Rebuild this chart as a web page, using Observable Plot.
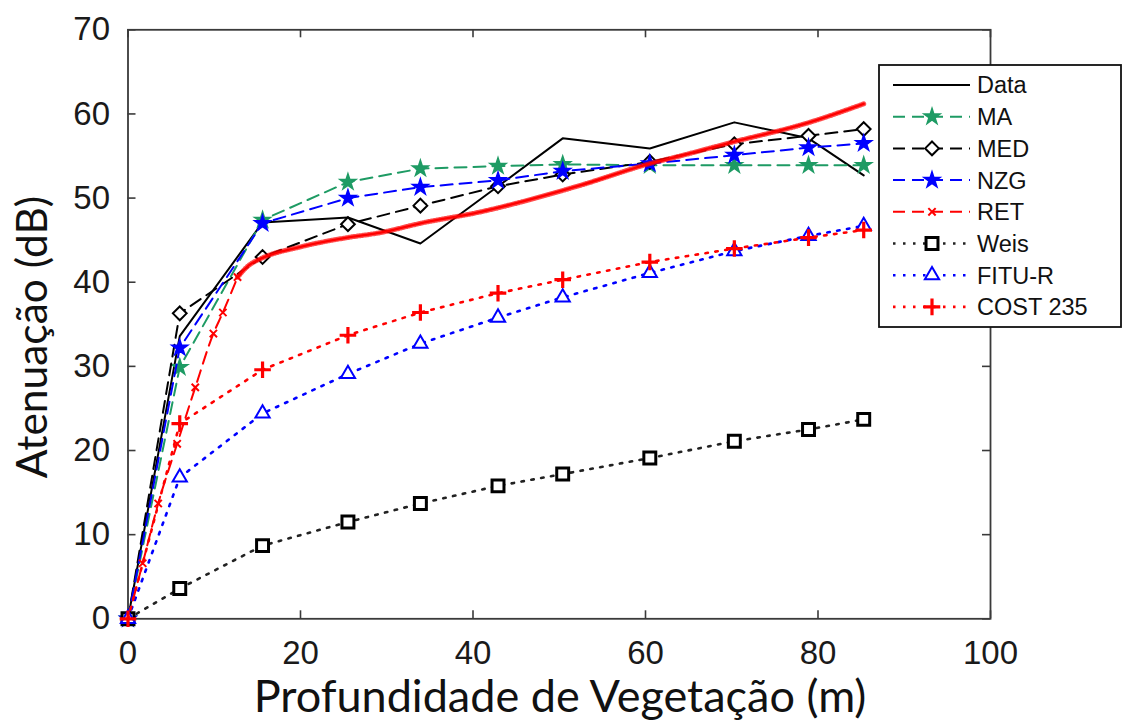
<!DOCTYPE html>
<html>
<head>
<meta charset="utf-8">
<script src="https://cdn.jsdelivr.net/npm/d3@7"></script>
<script src="https://cdn.jsdelivr.net/npm/@observablehq/plot@0.6"></script>
<style>
  body { margin: 0; background: #fff; }
  #wrap { position: relative; width: 1123px; height: 728px; overflow: hidden; background: #fff; }
  #chart { position: absolute; left: 0; top: 0; }
  #titles { position: absolute; left: 0; top: 0; pointer-events: none; }
  #legend { position: absolute; left: 878px; top: 64px; }
</style>
</head>
<body>
<div id="wrap"><div id="chart"></div></div>
<script>
// Vegetation depth (m) at which every model was evaluated
const depth = [0, 6, 15.6, 25.5, 33.9, 42.9, 50.4, 60.5, 70.3, 78.9, 85.3];

// Attenuation (dB) per series
const measured = [0, 33.6, 47.1, 47.7, 44.6, 51.4, 57.1, 55.9, 59.0, 57.1, 52.7];
const ma       = [0, 29.9, 47.4, 51.9, 53.5, 53.8, 54.0, 53.9, 53.9, 53.9, 53.9];
const med      = [0, 36.3, 43.0, 46.9, 49.1, 51.4, 52.8, 54.3, 56.4, 57.4, 58.2];
const nzg      = [0, 32.2, 47.0, 50.0, 51.3, 52.1, 53.2, 54.1, 55.1, 56.0, 56.5];
const weis     = [0, 3.6, 8.7, 11.5, 13.7, 15.8, 17.2, 19.1, 21.1, 22.5, 23.7];
const fitur    = [0, 16.8, 24.4, 29.1, 32.7, 35.8, 38.2, 41.1, 43.7, 45.5, 46.7];
const cost235  = [0, 23.2, 29.6, 33.7, 36.4, 38.7, 40.3, 42.4, 44.0, 45.3, 46.2];

// RET model is evaluated on its own finer depth grid
const retDepth = [0, 1.7, 3.5, 5.7, 7.8, 9.9, 11.0, 12.7, 14.0, 15.4, 20, 25.4, 29.3, 33.9, 40.6, 52.4, 60.5, 64.0, 69.9, 78.7, 85.3];
const ret      = [0, 6.6, 13.7, 20.8, 27.5, 33.9, 36.4, 40.6, 42.0, 42.8, 44.2, 45.3, 45.9, 47.0, 48.3, 51.5, 54.1, 55.0, 56.6, 58.9, 61.2];

// Axis ticks
const xTicks = [0, 20, 40, 60, 80, 100];
const yTicks = [0, 10, 20, 30, 40, 50, 60, 70];

const W = 1123, H = 728;
const M = {left: 127.5, right: 133, top: 29.3, bottom: 109.7};
const innerW = W - M.left - M.right;
const innerH = H - M.top - M.bottom;
const tickLen = 8;

const GREEN = "#1e9b64", BLUE = "#0000ff", RED = "#ff0000", BLACK = "#000";
const DASH = "12,7", DOT = "2.5,7.5";
const AXIS = "#3a3a3a";

const rows = (xs, ys) => xs.map((x, i) => ({x, y: ys[i]}));
const retRows = rows(retDepth, ret);
const retSteep = retRows.filter(d => d.x <= 13);
const retFlat = retRows.filter(d => d.x >= 12.7);

const series = [
  {name: "Data",     ys: measured, stroke: BLACK, dash: null, width: 2},
  {name: "MA",       ys: ma,       stroke: GREEN, dash: DASH, width: 2, symbol: "star", fill: GREEN, r: 5},
  {name: "MED",      ys: med,      stroke: BLACK, dash: DASH, width: 2, symbol: "diamond2", fill: "white", r: 6.2, sw: 2},
  {name: "NZG",      ys: nzg,      stroke: BLUE,  dash: DASH, width: 2, symbol: "star", fill: BLUE, r: 5},
  {name: "RET"},
  {name: "Weis",     ys: weis,     stroke: "#222", dash: DOT, width: 2.6, symbol: "square2", fill: "white", r: 7.6, sw: 3, mstroke: BLACK},
  {name: "FITU-R",   ys: fitur,    stroke: BLUE,  dash: DOT, width: 2.6, symbol: "triangle2", fill: "white", r: 6.8, sw: 2},
  {name: "COST 235", ys: cost235,  stroke: RED,   dash: DOT, width: 2.6, symbol: "plus", fill: "none", r: 5.4, sw: 3.2}
];

const marks = [
  Plot.frame({stroke: AXIS, strokeWidth: 1.8}),
  // inward ticks, bottom and top
  Plot.tickX(xTicks, {x: d => d, stroke: AXIS, strokeWidth: 1.6, insetTop: innerH - tickLen}),
  Plot.tickX(xTicks, {x: d => d, stroke: AXIS, strokeWidth: 1.6, insetBottom: innerH - tickLen}),
  // inward ticks, left and right
  Plot.tickY(yTicks, {y: d => d, stroke: AXIS, strokeWidth: 1.6, insetRight: innerW - tickLen}),
  Plot.tickY(yTicks, {y: d => d, stroke: AXIS, strokeWidth: 1.6, insetLeft: innerW - tickLen}),
  Plot.axisX({ticks: xTicks, tickSize: 0, tickPadding: 22, label: null, fontSize: 33, fill: "#1a1a1a"}),
  Plot.axisY({ticks: yTicks, tickSize: 0, tickPadding: 18, label: null, fontSize: 33, fill: "#1a1a1a"})
];

for (const s of series) {
  if (s.name === "RET") {
    marks.push(
      Plot.line(retSteep, {x: "x", y: "y", stroke: RED, strokeWidth: 2, strokeDasharray: DASH, curve: "monotone-x"}),
      Plot.dot(retSteep.slice(1), {x: "x", y: "y", symbol: "times", r: 3.4, stroke: RED, strokeWidth: 2}),
      Plot.line(retFlat, {x: "x", y: "y", stroke: RED, strokeWidth: 2.4, curve: "monotone-x"}),
      Plot.line(retFlat, {x: "x", y: "y", stroke: RED, strokeWidth: 5, strokeDasharray: "1,1.8", strokeOpacity: 0.7, curve: "monotone-x"})
    );
    continue;
  }
  const data = rows(depth, s.ys);
  marks.push(Plot.line(data, {x: "x", y: "y", stroke: s.stroke, strokeWidth: s.width, strokeDasharray: s.dash}));
  if (s.symbol) {
    const stroked = s.symbol !== "star";
    marks.push(Plot.dot(data, {
      x: "x", y: "y", symbol: s.symbol, r: s.r,
      fill: s.fill,
      stroke: stroked ? (s.mstroke || s.stroke) : s.fill,
      strokeWidth: stroked ? s.sw : 1.5
    }));
  }
}

const chart = Plot.plot({
  width: W, height: H,
  marginLeft: M.left, marginRight: M.right, marginTop: M.top, marginBottom: M.bottom,
  x: {domain: [0, 100]},
  y: {domain: [0, 70]},
  style: {fontFamily: "'Liberation Sans', Arial, sans-serif", background: "transparent", overflow: "visible"},
  marks
});
document.getElementById("chart").append(chart);

// Axis titles
const titles = d3.select("#wrap").append("svg").attr("id", "titles")
  .attr("width", W).attr("height", H);
titles.append("text")
  .attr("x", 560).attr("y", 712)
  .attr("text-anchor", "middle")
  .attr("font-family", "Lato, 'Open Sans', sans-serif").attr("font-size", 45)
  .attr("fill", "#111")
  .text("Profundidade de Vegetação (m)");
titles.append("text")
  .attr("transform", "translate(47,337) rotate(-90)")
  .attr("text-anchor", "middle")
  .attr("font-family", "Lato, 'Open Sans', sans-serif").attr("font-size", 42.5)
  .attr("fill", "#111")
  .text("Atenuação (dB)");

// Legend box
const LW = 242, LH = 262, rowGap = 31.7, row0 = 21;
const leg = d3.select("#wrap").append("svg")
  .attr("id", "legend").attr("width", LW + 4).attr("height", LH + 4);
leg.append("rect").attr("x", 1).attr("y", 1).attr("width", LW).attr("height", LH)
  .attr("fill", "white").attr("stroke", "#111").attr("stroke-width", 1.8);

const symbolOf = {
  star: d3.symbolStar, diamond2: d3.symbolDiamond2, square2: d3.symbolSquare2,
  triangle2: d3.symbolTriangle2, plus: d3.symbolPlus, times: d3.symbolTimes
};
const legendSpecs = series.map(s => s.name === "RET"
  ? {name: "RET", stroke: RED, dash: DASH, width: 2, symbol: "times", fill: "none", r: 3.4, sw: 2, mstroke: RED}
  : s);

legendSpecs.forEach((s, i) => {
  const y = row0 + i * rowGap;
  const g = leg.append("g");
  g.append("line").attr("x1", 15).attr("x2", 92).attr("y1", y).attr("y2", y)
    .attr("stroke", s.stroke).attr("stroke-width", s.width)
    .attr("stroke-dasharray", s.dash || null);
  if (s.symbol) {
    const stroked = s.symbol !== "star";
    g.append("path")
      .attr("transform", `translate(54,${y})`)
      .attr("d", d3.symbol(symbolOf[s.symbol], s.r * s.r * Math.PI)())
      .attr("fill", s.fill)
      .attr("stroke", stroked ? (s.mstroke || s.stroke) : s.fill)
      .attr("stroke-width", stroked ? s.sw : 1.5);
  }
  g.append("text").attr("x", 99).attr("y", y).attr("dy", "0.36em")
    .attr("font-family", "'Liberation Sans', Arial, sans-serif")
    .attr("font-size", 23.5).attr("fill", "#111").text(s.name);
});
</script>
</body>
</html>
